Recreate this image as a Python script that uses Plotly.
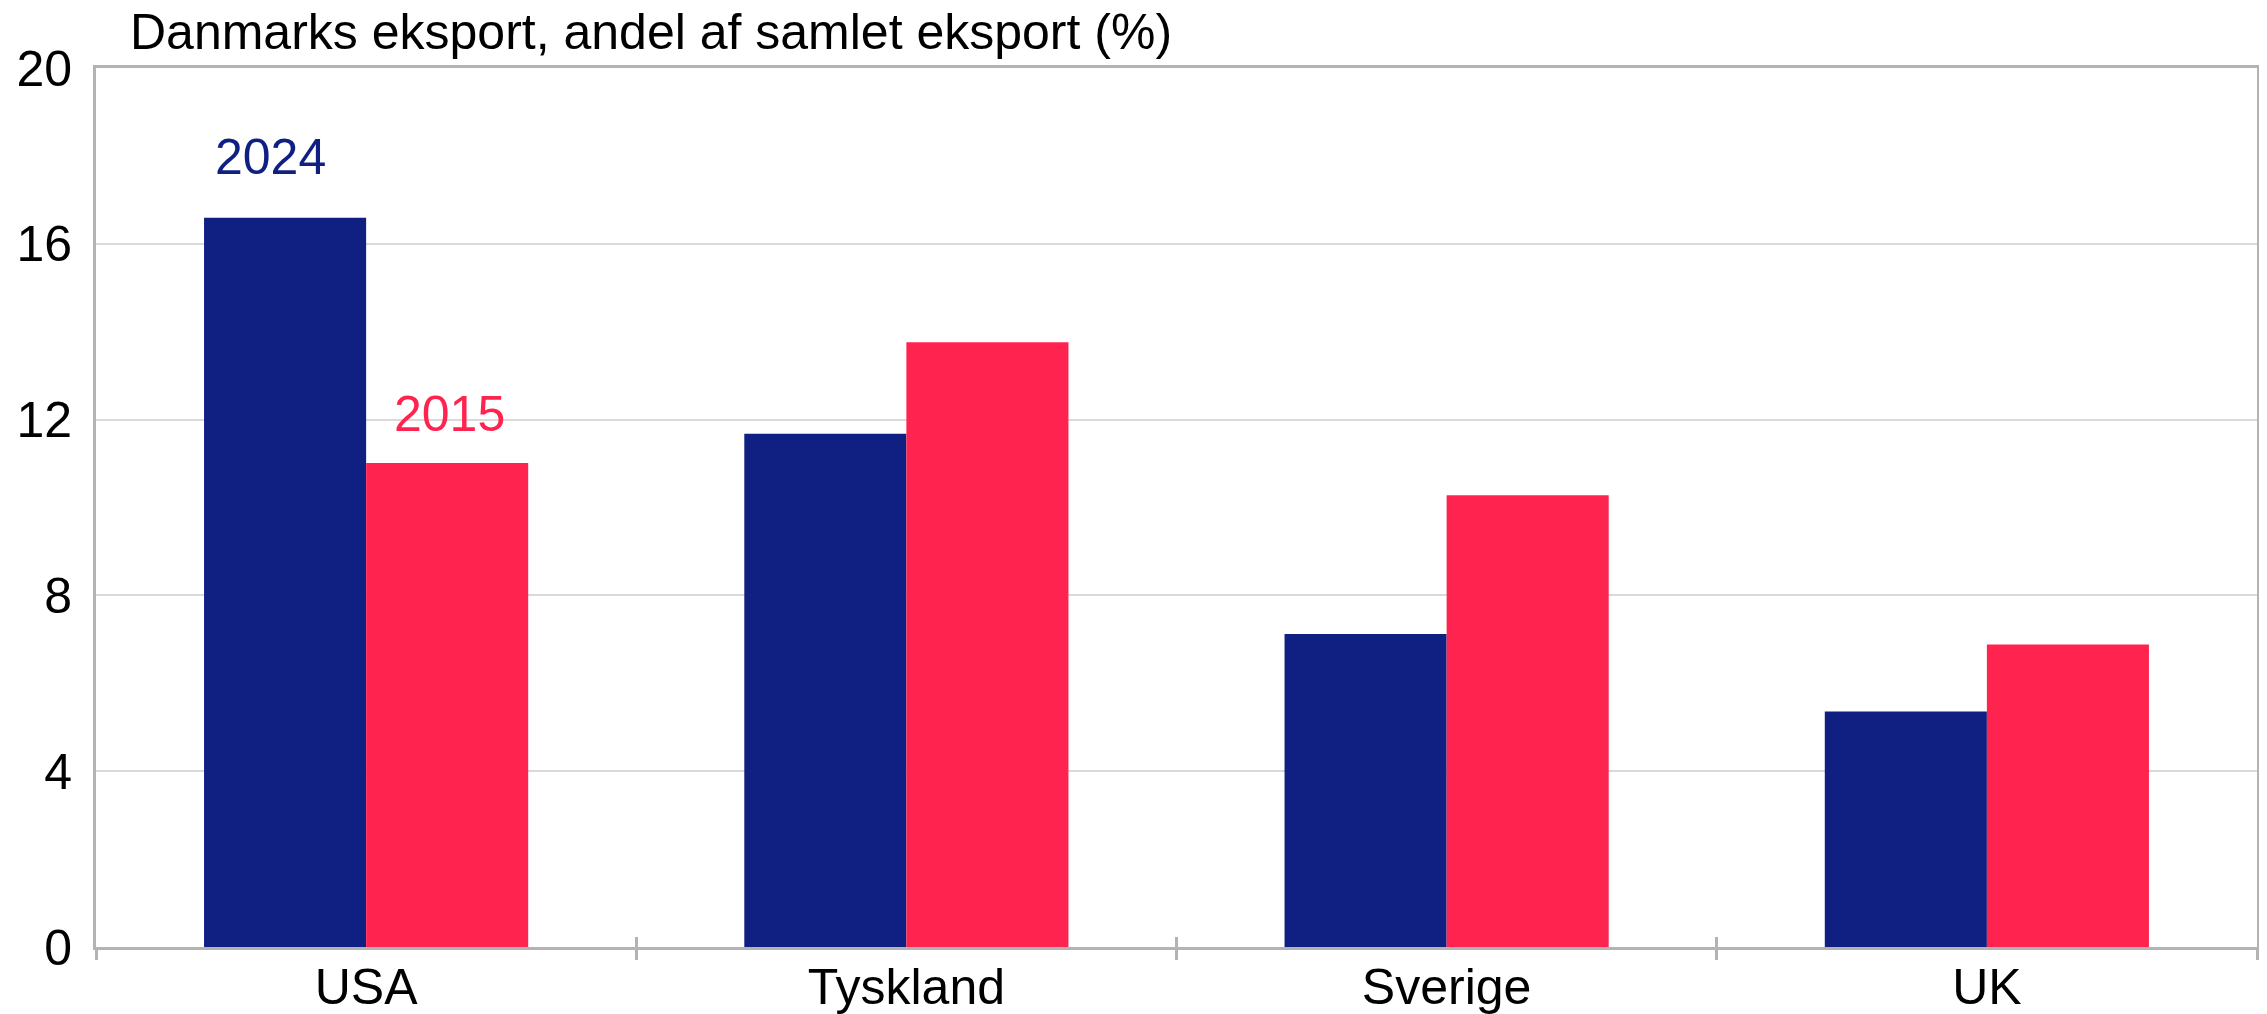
import plotly.graph_objects as go

categories = ["USA", "Tyskland", "Sverige", "UK"]
share_2024 = [16.59, 11.68, 7.12, 5.36]
share_2015 = [11.01, 13.76, 10.28, 6.88]
y_ticks = [0, 4, 8, 12, 16, 20]
title_text = "Danmarks eksport, andel af samlet eksport (%)"

NAVY = "#0f1f82"
PINK = "#ff2450"
AXIS = "#b3b3b3"
GRID = "#d9d9d9"
FONT = "Liberation Sans, Arial, sans-serif"

fig = go.Figure()
fig.add_trace(go.Bar(x=categories, y=share_2024, name="2024",
                     marker=dict(color=NAVY, line=dict(width=0))))
fig.add_trace(go.Bar(x=categories, y=share_2015, name="2015",
                     marker=dict(color=PINK, line=dict(width=0))))
# invisible helper trace to activate overlay axis used for crossing ticks
fig.add_trace(go.Scatter(x=categories, y=[0] * len(categories), xaxis="x2",
                         mode="markers", marker=dict(opacity=0),
                         hoverinfo="skip", showlegend=False))

fig.update_layout(
    width=2259, height=1006,
    margin=dict(l=88, r=10, t=60, b=67),
    paper_bgcolor="white", plot_bgcolor="white",
    barmode="group", bargap=0.4, bargroupgap=0,
    showlegend=False,
    font=dict(family=FONT, size=50, color="black"),
    xaxis=dict(type="category", categoryarray=categories, range=[-0.5, 3.5],
               showline=True, linecolor=AXIS, linewidth=3, mirror=True,
               ticks="outside", ticklen=10, tickwidth=3, tickcolor=AXIS,
               tickson="boundaries", showgrid=False, automargin=False,
               ticklabelstandoff=-6,
               tickfont=dict(size=50, family=FONT, color="black")),
    xaxis2=dict(type="category", categoryarray=categories, range=[-0.5, 3.5],
                overlaying="x", anchor="y", side="bottom", automargin=False,
                ticks="inside", ticklen=10, tickwidth=3, tickcolor=AXIS,
                tickson="boundaries", showticklabels=False, showline=False,
                showgrid=False),
    yaxis=dict(range=[0, 20], tickvals=y_ticks, ticktext=[str(v) for v in y_ticks],
               showline=True, linecolor=AXIS, linewidth=3, mirror=True,
               showgrid=True, gridcolor=GRID, gridwidth=2, zeroline=False,
               ticks="", ticklabelstandoff=11, automargin=False,
               tickfont=dict(size=50, family=FONT, color="black")),
)

fig.add_annotation(text=title_text, xref="paper", yref="paper",
                   x=32 / 2161, y=1, xanchor="left", yanchor="bottom",
                   yshift=6, showarrow=False,
                   font=dict(size=50, family=FONT, color="black"))

fig.add_annotation(text="2024", x=categories[0], y=share_2024[0], xref="x", yref="y",
                   xanchor="center", yanchor="bottom", xshift=-96, yshift=31,
                   showarrow=False, font=dict(size=50, family=FONT, color=NAVY))
fig.add_annotation(text="2015", x=categories[0], y=share_2015[0], xref="x", yref="y",
                   xanchor="center", yanchor="bottom", xshift=83, yshift=19,
                   showarrow=False, font=dict(size=50, family=FONT, color=PINK))

fig.write_html("out.html")
